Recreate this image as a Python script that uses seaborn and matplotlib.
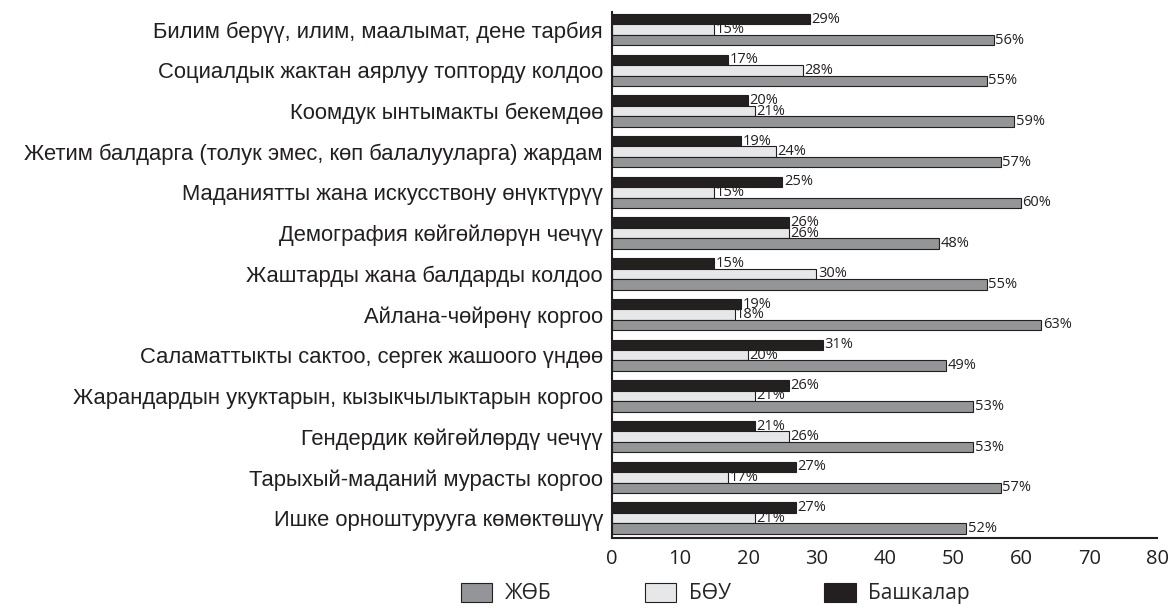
import matplotlib
matplotlib.use("Agg")
import matplotlib.pyplot as plt
import seaborn as sns
import pandas as pd
from matplotlib.patches import Patch

categories = [
    "Билим берүү, илим, маалымат, дене тарбия",
    "Социалдык жактан аярлуу топторду колдоо",
    "Коомдук ынтымакты бекемдөө",
    "Жетим балдарга (толук эмес, көп балалууларга) жардам",
    "Маданиятты жана искусствону өнүктүрүү",
    "Демография көйгөйлөрүн чечүү",
    "Жаштарды жана балдарды колдоо",
    "Айлана-чөйрөнү коргоо",
    "Саламаттыкты сактоо, сергек жашоого үндөө",
    "Жарандардын укуктарын, кызыкчылыктарын коргоо",
    "Гендердик көйгөйлөрдү чечүү",
    "Тарыхый-маданий мурасты коргоо",
    "Ишке орноштурууга көмөктөшүү",
]
bashkalar = [29, 17, 20, 19, 25, 26, 15, 19, 31, 26, 21, 27, 27]
bou = [15, 28, 21, 24, 15, 26, 30, 18, 20, 21, 26, 17, 21]
job = [56, 55, 59, 57, 60, 48, 55, 63, 49, 53, 53, 57, 52]

series = ["Башкалар", "БӨУ", "ЖӨБ"]
legend_order = ["ЖӨБ", "БӨУ", "Башкалар"]
colors = {"ЖӨБ": "#939598", "БӨУ": "#e6e7e8", "Башкалар": "#231f20"}
ink = "#231f20"
num_font = ["Open Sans", "DejaVu Sans"]

rows = []
for i, cat in enumerate(categories):
    rows.append((cat, "Башкалар", bashkalar[i]))
    rows.append((cat, "БӨУ", bou[i]))
    rows.append((cat, "ЖӨБ", job[i]))
df = pd.DataFrame(rows, columns=["category", "series", "value"])

sns.set_style("white")
plt.rcParams["font.family"] = ["Liberation Sans", "DejaVu Sans"]

fig = plt.figure(figsize=(11.69, 6.08), dpi=100)
ax = fig.add_axes([0.5235, 0.1151, 0.4665, 0.865])

sns.barplot(
    data=df, y="category", x="value", hue="series", order=categories,
    hue_order=series, palette=colors, orient="h", width=0.77,
    edgecolor=ink, linewidth=0.8, ax=ax, legend=False,
)

# value labels at the bar ends
for cont in ax.containers:
    labels = [f"{int(v)}%" for v in cont.datavalues]
    ax.bar_label(cont, labels=labels, padding=1, fontsize=10.5,
                 family=num_font, color=ink)

ax.set_xlim(0, 80)
ax.set_ylim(len(categories) - 0.51, -0.43)
ax.set_xticks(range(0, 81, 10))
ax.set_xlabel("")
ax.set_ylabel("")
ax.set_axisbelow(True)
for s in ["top", "right"]:
    ax.spines[s].set_visible(False)
for s in ["left", "bottom"]:
    ax.spines[s].set_color(ink)
    ax.spines[s].set_linewidth(1.5)
ax.tick_params(axis="x", direction="in", length=14, width=1.5, color=ink,
               labelsize=14.5, pad=8, labelcolor=ink)
ax.tick_params(axis="y", length=0, labelsize=15.8, pad=6.5, labelcolor=ink)
for t in ax.get_xticklabels():
    t.set_family(num_font)

handles = [Patch(facecolor=colors[s], edgecolor=ink, linewidth=0.8)
           for s in legend_order]
fig.legend(handles, legend_order, loc="center",
           bbox_to_anchor=(0.612, 0.024), ncol=3, frameon=False,
           handlelength=1.5, handleheight=1.05, columnspacing=4.5,
           handletextpad=0.6, prop={"family": num_font, "size": 15})

fig.savefig("out.png", dpi=100)
